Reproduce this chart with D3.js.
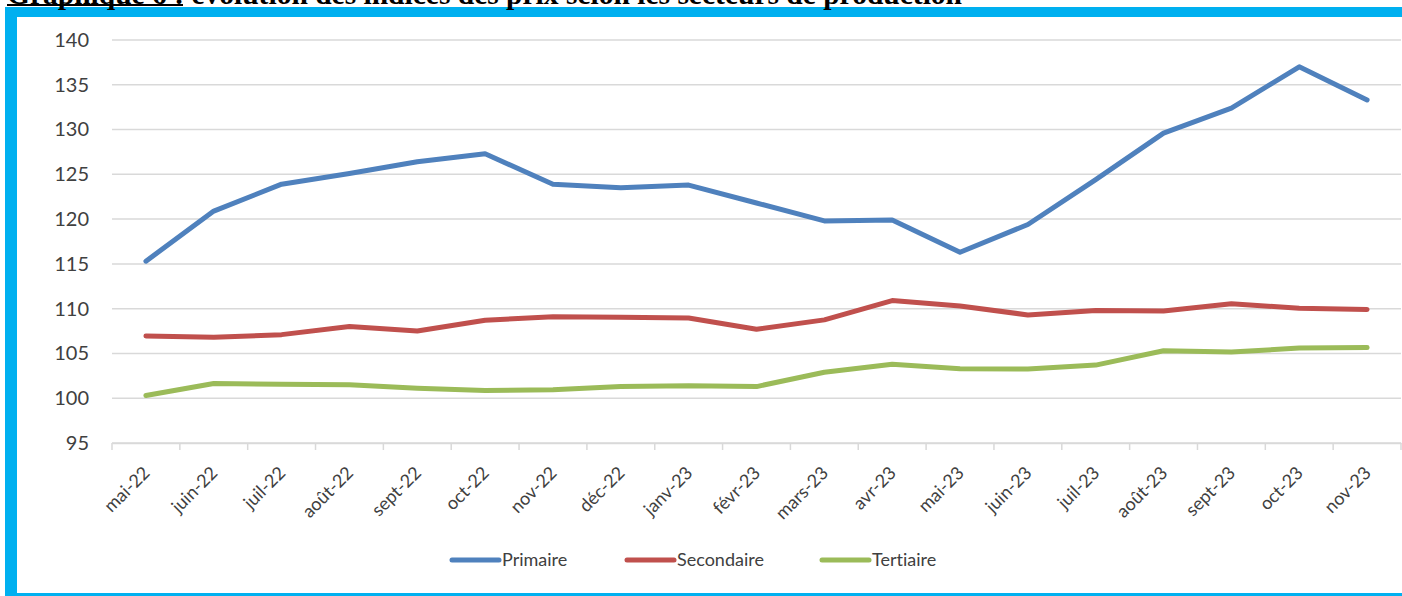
<!DOCTYPE html>
<html>
<head>
<meta charset="utf-8">
<script src="https://cdn.jsdelivr.net/npm/d3@7"></script>
<style>
  body { margin: 0; background: #fff; }
  svg { display: block; }
  text { font-variant-ligatures: none; }
</style>
</head>
<body>
<svg id="chart" width="1402" height="596"></svg>
<script>
// Mois (axe des x)
const months = ['mai-22', 'juin-22', 'juil-22', 'août-22', 'sept-22', 'oct-22', 'nov-22', 'déc-22',
  'janv-23', 'févr-23', 'mars-23', 'avr-23', 'mai-23', 'juin-23', 'juil-23', 'août-23',
  'sept-23', 'oct-23', 'nov-23'];

// Indices par secteur
const primaire = [115.3, 120.9, 123.9, 125.1, 126.4, 127.3, 123.9, 123.5, 123.8, 121.8,
  119.8, 119.9, 116.3, 119.4, 124.4, 129.6, 132.4, 137.0, 133.3];
const secondaire = [106.95, 106.8, 107.1, 108.0, 107.5, 108.7, 109.1, 109.05, 108.95, 107.7,
  108.75, 110.9, 110.3, 109.3, 109.8, 109.75, 110.55, 110.05, 109.9];
const tertiaire = [100.3, 101.65, 101.55, 101.5, 101.1, 100.85, 100.95, 101.3, 101.4, 101.3,
  102.9, 103.8, 103.3, 103.25, 103.7, 105.3, 105.15, 105.6, 105.65];

const yTicks = [95, 100, 105, 110, 115, 120, 125, 130, 135, 140];

const seriesNames = ['Primaire', 'Secondaire', 'Tertiaire'];
const seriesColors = ['#4F81BD', '#C0504D', '#9BBB59'];

const svg = d3.select('#chart');
const margin = { top: 40, right: 1, bottom: 153, left: 112 };
const width = 1402 - margin.left - margin.right;
const height = 596 - margin.top - margin.bottom;

// Cadre bleu
svg.append('rect')
  .attr('x', 5).attr('y', 7).attr('width', 1397).attr('height', 10)
  .attr('fill', '#00B0F0');
svg.append('rect')
  .attr('x', 5).attr('y', 7).attr('width', 12).attr('height', 589)
  .attr('fill', '#00B0F0');
svg.append('rect')
  .attr('x', 5).attr('y', 593).attr('width', 1397).attr('height', 3)
  .attr('fill', '#00B0F0');

// Titre (coupé en haut de l'image, comme dans l'original)
const title = svg.append('text')
  .attr('x', 7)
  .attr('y', 4)
  .style('font-family', '"Liberation Serif", "Times New Roman", serif')
  .style('font-weight', 'bold')
  .style('font-size', '29.5px')
  .attr('fill', '#000');
title.append('tspan').text('Graphique 6');
title.append('tspan').text(' : évolution des indices des prix selon les secteurs de production');
svg.append('rect')
  .attr('x', 7).attr('y', 4).attr('width', 176).attr('height', 2)
  .attr('fill', '#000');

const g = svg.append('g')
  .attr('transform', `translate(${margin.left}, ${margin.top})`);

const x = d3.scaleBand()
  .domain(months)
  .range([0, width])
  .padding(0);

const y = d3.scaleLinear()
  .domain([95, 140])
  .range([height, 0]);

// Quadrillage
g.selectAll('line.grid')
  .data(yTicks)
  .enter()
  .append('line')
  .classed('grid', true)
  .attr('x1', 0)
  .attr('x2', width)
  .attr('y1', (d) => { return y(d); })
  .attr('y2', (d) => { return y(d); })
  .style('stroke', '#D9D9D9')
  .style('stroke-width', 1.5);

// Axe des y
const yAxis = g.append('g')
  .call(d3.axisLeft(y).tickValues(yTicks).tickSize(0).tickPadding(23));
yAxis.select('.domain').remove();
yAxis.selectAll('text')
  .style('font-family', 'Lato, sans-serif')
  .style('font-size', '20px')
  .attr('fill', '#404040');

// Axe des x
const xAxis = g.append('g')
  .attr('transform', `translate(0, ${height})`)
  .call(d3.axisBottom(x).tickSize(0));
xAxis.select('.domain')
  .style('stroke', '#D9D9D9')
  .style('stroke-width', 1.5);
xAxis.selectAll('text')
  .attr('text-anchor', 'end')
  .attr('transform', 'translate(5, 31) rotate(-45)')
  .attr('dy', 0)
  .attr('y', 0)
  .style('font-family', 'Lato, sans-serif')
  .style('font-size', '18px')
  .attr('fill', '#404040');

// Graduations entre les catégories
xAxis.selectAll('line.sep')
  .data(d3.range(months.length + 1))
  .enter()
  .append('line')
  .classed('sep', true)
  .attr('x1', (i) => { return i * x.step(); })
  .attr('x2', (i) => { return i * x.step(); })
  .attr('y1', 0)
  .attr('y2', 7)
  .style('stroke', '#D9D9D9')
  .style('stroke-width', 1.5);

// Courbes
const line = d3.line()
  .x((d, i) => { return x(months[i]) + x.bandwidth() / 2; })
  .y((d) => { return y(d); });

[primaire, secondaire, tertiaire].forEach((values, k) => {
  g.append('path')
    .datum(values)
    .attr('fill', 'none')
    .attr('stroke', seriesColors[k])
    .attr('stroke-width', 5)
    .attr('stroke-linejoin', 'round')
    .attr('stroke-linecap', 'round')
    .attr('d', line);
});

// Légende
const legendX = [452, 627, 822];
const legend = svg.append('g');
seriesNames.forEach((name, k) => {
  legend.append('line')
    .attr('x1', legendX[k])
    .attr('x2', legendX[k] + 47)
    .attr('y1', 560)
    .attr('y2', 560)
    .style('stroke', seriesColors[k])
    .style('stroke-width', 5)
    .style('stroke-linecap', 'round');
  legend.append('text')
    .attr('x', legendX[k] + 50)
    .attr('y', 560)
    .attr('dy', '0.35em')
    .style('font-family', 'Lato, sans-serif')
    .style('font-size', '18px')
    .attr('fill', '#404040')
    .text(name);
});
</script>
</body>
</html>
